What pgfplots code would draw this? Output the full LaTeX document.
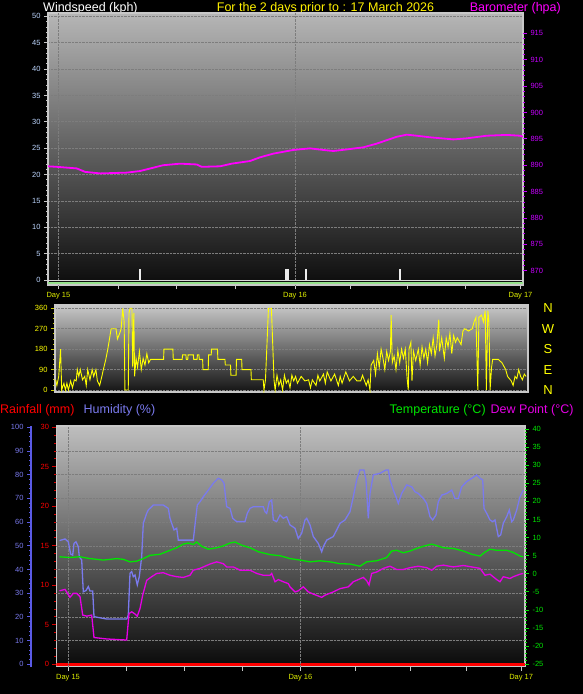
\documentclass[border=0pt]{standalone}
\usepackage{pgfplots}
\pgfplotsset{compat=1.18}
\usepackage{fontspec}
\setmainfont{Liberation Sans}
\definecolor{dayyel}{RGB}{225,240,0}
\definecolor{windlab}{RGB}{190,215,255}
\definecolor{baro}{RGB}{255,0,255}
\definecolor{barolab}{RGB}{200,0,255}
\definecolor{hum}{RGB}{122,122,238}
\definecolor{humax}{RGB}{90,90,230}
\definecolor{temp}{RGB}{0,230,0}
\definecolor{dew}{RGB}{230,0,230}
\definecolor{frame}{RGB}{200,200,200}
\definecolor{dirc}{RGB}{255,255,0}
\definecolor{windg}{RGB}{150,225,140}
\definecolor{gridc}{RGB}{125,125,125}
\pgfplotsset{
  base/.style={scale only axis, clip=true,
    tick label style={font=\fontsize{7.5}{8}\selectfont},
    /pgf/number format/assume math mode=true,
    tick align=outside, major tick length=4pt, minor tick length=2pt,
  },
}
\begin{document}
\begin{tikzpicture}
\fill[black] (0pt,0pt) rectangle (583pt,-694pt);
% titles
\node[anchor=base west, text=white, font=\fontsize{12.5}{14}\selectfont, inner sep=0] at (43pt,-11.5pt) {Windspeed (kph)};
\node[anchor=base, text=yellow, font=\fontsize{12.5}{14}\selectfont, inner sep=0] at (325.5pt,-11.5pt) {For the 2 days prior to : 17 March 2026};
\node[anchor=base east, text=baro, font=\fontsize{12.5}{14}\selectfont, inner sep=0] at (561pt,-11.5pt) {Barometer (hpa)};
\node[anchor=base west, text=red, font=\fontsize{12.5}{14}\selectfont, inner sep=0] at (0pt,-413.5pt) {Rainfall (mm)};
\node[anchor=base west, text=hum, font=\fontsize{12.5}{14}\selectfont, inner sep=0] at (83.5pt,-413.5pt) {Humidity (\%)};
\node[anchor=base west, text=temp, font=\fontsize{12.5}{14}\selectfont, inner sep=0] at (389.5pt,-413.5pt) {Temperature (°C)};
\node[anchor=base west, text=dew, font=\fontsize{12.5}{14}\selectfont, inner sep=0] at (490.5pt,-413.5pt) {Dew Point (°C)};

% ===== top panel: wind speed
\begin{axis}[base, at={(48pt,-285pt)}, anchor=south west, width=475pt, height=272pt,
  xmin=48, xmax=523, ymin=-0.95, ymax=50.63,
  axis background/.style={top color={rgb,255:red,182;green,182;blue,182}, bottom color={rgb,255:red,12;green,12;blue,12}},
  axis line style={frame, line width=1.2pt}, tick pos=left,
  tick style={frame, line width=0.7pt},
  ytick={0,5,...,50}, minor y tick num=4,
  yticklabel style={text=windlab},
  xtick={58.4,118,176.6,235.7,295,350.6,407.8,465.8,520.5},
  xticklabels={Day 15,,,,Day 16,,,,Day 17},
  xticklabel style={text=dayyel},
  ymajorgrids, y grid style={densely dotted, gridc, line width=0.6pt},
  extra x ticks={58.4,295}, extra x tick labels={},
  extra x tick style={grid=major, major tick length=0pt, x grid style={densely dotted, gridc, line width=0.8pt}},
]
\addplot[windg, line width=2.5pt] coordinates {(48,-0.57) (523,-0.57)};
\addplot[gray!30!white, line width=0.8pt] coordinates {(48,0) (523,0)};
\addplot[ycomb, white!85!gray, line width=1.3pt] coordinates {(140,2) (286,2.1) (288,2.1) (306,2) (400,2)};
\end{axis}
% barometer
\begin{axis}[base, at={(48pt,-285pt)}, anchor=south west, width=475pt, height=272pt,
  xmin=48, xmax=523, ymin=867.29, ymax=918.87,
  axis y line*=right, axis x line=none,
  axis line style={draw=none},
  tick style={barolab, line width=0.9pt},
  ytick={870,875,...,915}, minor y tick num=4,
  yticklabel style={text=barolab},
]
\addplot[baro, line width=1.8pt] coordinates {
(48,889.8) (56.7,889.7) (76.7,889.4) (85,888.75) (100,888.45) (126.7,888.6) (140,888.9)
(163,890.0) (180,890.3) (196.7,890.15) (201.7,889.7) (220,889.8) (231.7,890.3) (250,890.8)
(260,891.5) (273.3,892.2) (293.3,892.9) (310,893.2) (323.3,892.9) (333.3,892.7) (346.7,893.0)
(363.3,893.4) (376.7,894.1) (386.7,894.75) (396.7,895.4) (406.7,895.8) (416.7,895.6) (430,895.3)
(453.3,894.9) (466.7,895.1) (486.7,895.6) (506.7,895.75) (520,895.6) (523,895.4)};
\end{axis}

% ===== middle panel: wind direction
\begin{axis}[base, at={(55pt,-392pt)}, anchor=south west, width=473pt, height=87pt,
  xmin=148, xmax=1420, ymin=-8.8, ymax=374.5,
  axis background/.style={top color={rgb,255:red,200;green,200;blue,200}, bottom color={rgb,255:red,20;green,20;blue,20}},
  axis line style={frame, line width=1.2pt}, tick pos=left,
  tick style={dirc!80!black, line width=0.7pt},
  ytick={0,90,...,360}, minor y tick num=3,
  yticklabel style={text=dirc},
  xtick=\empty,
  ymajorgrids, y grid style={densely dotted, gridc, line width=0.6pt},
]
\addplot[dirc, line width=0.9pt] coordinates {
(150,45) (153,20) (158,60) (163,180) (166,0) (172,30) (176,0) (180,30) (184,0) (190,40) (195,10)
(200,45) (205,40) (208,90) (212,60) (216,90) (222,45) (228,60) (232,20) (236,90) (242,45) (248,90)
(252,60) (258,90) (262,40) (268,20) (274,60) (278,90) (284,130) (290,180) (295,230) (299,270)
(312,270) (316,225) (322,250) (326,270) (330,360) (334,300) (336,0) (345,0) (347,340) (350,360)
(355,360) (357,100) (360,340) (362,60) (366,140) (370,100) (375,170) (380,90) (385,140) (390,110)
(395,160) (400,120) (405,135) (440,135) (441,180) (465,180) (466,135) (490,135) (491,155) (500,155)
(501,135) (505,135) (506,155) (520,155) (521,135) (530,135) (531,155) (535,155) (536,135) (545,135)
(546,90) (560,90) (561,155) (568,155) (569,180) (585,180) (586,135) (605,135) (606,110) (620,110)
(621,65) (635,65) (636,135) (650,135) (651,90) (675,90) (676,45) (708,45) (710,0) (714,45) (718,200)
(722,360) (730,360) (734,180) (737,45) (740,0) (745,65) (750,20) (755,45) (760,0) (765,65) (770,30)
(775,45) (780,10) (785,65) (790,40) (795,60) (800,30) (810,60) (820,40) (830,45) (835,10) (840,45)
(850,20) (855,65) (860,40) (870,70) (875,30) (880,80) (890,40) (900,70) (910,20) (915,60) (920,30)
(930,80) (940,40) (950,60) (960,40) (970,40) (975,65) (985,20) (990,45) (995,0) (998,110) (1005,130)
(1010,70) (1015,160) (1020,100) (1025,180) (1030,140) (1035,90) (1040,170) (1045,130) (1050,170)
(1052,330) (1055,120) (1060,150) (1065,90) (1070,175) (1075,120) (1080,180) (1085,140) (1090,180)
(1095,50) (1098,0) (1100,180) (1105,210) (1108,40) (1112,170) (1118,130) (1125,180) (1130,110)
(1135,190) (1140,140) (1145,180) (1150,120) (1155,200) (1160,160) (1165,230) (1170,150) (1175,200)
(1180,310) (1182,170) (1188,230) (1195,140) (1200,230) (1205,190) (1210,250) (1215,160) (1220,240)
(1225,210) (1230,230) (1240,200) (1245,260) (1250,270) (1260,260) (1270,270) (1275,300) (1280,320)
(1285,0) (1288,320) (1295,330) (1300,300) (1305,350) (1308,0) (1312,350) (1315,300) (1318,0)
(1322,100) (1325,135) (1340,135) (1350,120) (1360,90) (1365,60) (1375,40) (1380,20) (1385,60)
(1390,50) (1395,90) (1400,60) (1405,45) (1410,70) (1415,60)};
\end{axis}
% compass letters
\begin{axis}[base, at={(55pt,-392pt)}, anchor=south west, width=473pt, height=87pt,
  xmin=148, xmax=1420, ymin=-8.8, ymax=374.5,
  axis y line*=right, axis x line=none, axis line style={draw=none},
  major tick length=0pt,
  ytick={0,90,180,270,360}, yticklabels={N,E,S,W,N},
  yticklabel style={font=\fontsize{13}{13}\selectfont, text=dirc, anchor=center, xshift=20pt},
]
\end{axis}

% ===== bottom panel
\begin{axis}[base, at={(56.5pt,-666.5pt)}, anchor=south west, width=468.5pt, height=240.5pt,
  xmin=56.5, xmax=525, ymin=-0.28, ymax=30.16,
  axis background/.style={top color={rgb,255:red,190;green,190;blue,190}, bottom color={rgb,255:red,10;green,10;blue,10}},
  axis line style={frame, line width=1.2pt}, tick pos=left,
  ytick={0,5,...,30}, minor y tick num=4,
  y tick style={red!85!black, line width=0.8pt},
  x tick style={frame, line width=0.7pt},
  yticklabel style={text=red},
  xtick={68,126.4,184,242.4,300.4,355,410.8,466.5,521.2},
  xticklabels={Day 15,,,,Day 16,,,,Day 17},
  xticklabel style={text=dayyel},
]
\addplot[red, line width=2.5pt] coordinates {(56.5,0) (525,0)};
\end{axis}
% humidity data
\begin{axis}[base, at={(56.5pt,-666.5pt)}, anchor=south west, width=468.5pt, height=240.5pt,
  xmin=56.5, xmax=525, ymin=-0.93, ymax=100.55,
  axis line style={draw=none}, tick style={draw=none},
  ytick={10,20,...,90}, yticklabels={}, xtick={68,300.4}, xticklabels={},
  ymajorgrids, xmajorgrids,
  y grid style={densely dotted, gridc, line width=0.6pt}, x grid style={densely dotted, gridc, line width=0.8pt},
]
\addplot[hum, line width=1.3pt] coordinates {
(59.5,52.2) (65,52.9) (68.3,51.7) (70.7,46.5) (72.7,46.1) (74,51.0) (76,51.7) (78.3,49.6) (79.3,45.4)
(81.7,44.0) (83.3,30.6) (86,31.1) (88.3,32.8) (90,30.9) (92.7,30.9) (94,20.1) (106.7,19.1) (126.7,19.1)
(128.3,20.8) (130,38.4) (131.7,39.1) (133.3,37.0) (135,37.7) (137.3,33.5) (139.3,37.0) (141.7,45.4)
(143.3,59.5) (146.7,63.7) (148.3,65.1) (153.3,67.2) (163.3,67.2) (168.3,65.8) (170,61.6) (174,56.7)
(176.7,57.4) (178.3,52.4) (193.3,52.4) (195,58.8) (197.3,67.2) (200,68.6) (203.3,70.7) (208.3,73.5)
(213.3,76.4) (218.3,78.5) (221.7,77.8) (224,76.4) (226.7,66.5) (230,65.8) (232.7,61.6) (236.7,60.2)
(245,60.2) (247.3,63.7) (250,65.8) (253.3,66.5) (263.3,66.5) (265,64.4) (266.7,63.7) (269.3,68.6)
(271.7,69.3) (273.3,60.9) (276.7,60.2) (280,63.0) (283.3,61.6) (286.7,62.3)
(290,58.8) (295,57.4) (298.3,53.1) (301.7,55.3) (305,60.9) (306.7,61.6) (310,58.8) (313.3,53.9)
(318.3,51.0) (321.7,47.5) (323.3,49.6) (326.7,52.4) (333.3,53.9) (336.7,56.7) (340,59.5) (345,60.9)
(350,64.4) (353.3,70.7) (356.7,77.8) (360,82.0) (364,82.0) (366,77.8) (368.3,61.6) (370,72.1)
(373.3,79.9) (380,80.6) (386,82.0) (388.3,82.0) (390,77.8) (393.3,73.5) (396,70.7) (398.3,67.9)
(401.7,72.1) (406.7,75.7) (411.7,74.9) (415,72.8) (418.3,72.1) (423.3,70.0) (426.7,67.9) (430,62.3)
(432.7,60.9) (436,63.0) (438.3,68.6) (441.7,71.4) (446.7,72.1) (451.7,73.5) (455,70.0) (458.3,70.0)
(461.7,74.9) (466.7,77.1) (471.7,78.5) (476.7,79.9) (480,78.5) (482.7,77.8) (484,65.8) (486.7,63.7)
(490,60.9) (492.7,60.2) (495,60.9) (498.3,53.9) (500.7,54.6) (503.3,59.5) (506.7,62.3) (509.3,65.1)
(511.7,60.2) (513.3,60.9) (516.7,65.1) (520,70.7) (523.3,73.5)};
\end{axis}
% temperature / dew point
\begin{axis}[base, at={(56.5pt,-666.5pt)}, anchor=south west, width=468.5pt, height=240.5pt,
  xmin=56.5, xmax=525, ymin=-25.61, ymax=40.83,
  axis y line*=right, axis x line=none, axis line style={draw=none},
  tick style={temp, line width=0.9pt},
  ytick={-25,-20,...,40}, minor y tick num=4,
  yticklabel style={text=temp},
]
\addplot[temp, line width=1.3pt] coordinates {
(59.5,4.7) (70,4.5) (80,4.7) (90,4.2) (103.3,3.8) (116.7,4.2) (123.3,4.0) (130,3.3) (136.7,3.5)
(143.3,4.2) (150,5.1) (160,5.4) (170,6.5) (176.7,7.2) (183.3,8.2) (188.3,8.5) (193.3,8.1) (196.7,8.8)
(201.7,7.6) (208.3,6.8) (216.7,7.2) (223.3,7.7) (230,8.5) (235,8.8) (241.7,7.9) (250,7.2) (258.3,6.1)
(270,5.3) (280,5.0) (290,4.2) (300,3.8) (310,3.3) (320,3.6) (330,3.3) (340,2.8) (350,2.7) (360,2.1)
(366.7,3.3) (376.7,3.6) (386.7,4.5) (391.7,6.3) (396.7,6.5) (403.3,5.8) (410,6.3) (416.7,7.0)
(423.3,7.6) (431.7,8.2) (436.7,7.8) (443.3,7.2) (453.3,7.0) (463.3,6.3) (471.7,5.4) (480,4.9)
(485,6.0) (490,6.8) (496.7,6.5) (506.7,6.5) (513.3,5.9) (520,4.9) (523.3,4.7)};
\addplot[dew, line width=1.3pt] coordinates {
(59.5,-4.7) (65,-4.3) (70,-6.5) (73.3,-5.4) (76.7,-5.4) (80,-6.3) (82.7,-11.4) (86.7,-11.7) (91.7,-11.4)
(94,-17.6) (106.7,-18.0) (126.7,-18.3) (129,-11.0) (131.7,-10.5) (135,-11.1) (137.3,-11.7) (140,-9.6)
(142.7,-5.9) (146.7,-1.8) (151.7,-0.8) (156.7,0.1) (163.3,0.3) (170,-0.4) (176.7,-0.8) (183.3,-1.0)
(190,-0.4) (193.3,1.0) (200,1.5) (210,2.7) (216.7,3.3) (223.3,2.8) (226.7,1.9) (233.3,1.9) (240,1.0)
(250,1.0) (256.7,0.1) (263.3,-0.4) (270,-0.4) (271.7,0.1) (275,-2.2) (278.3,-1.6) (283.3,-2.2)
(288.3,-2.7) (290,-3.6) (295,-5.0) (298.3,-4.7) (303.3,-3.6) (308.3,-5.0) (313.3,-5.6) (321.7,-6.5)
(325,-5.9) (333.3,-5.0) (340,-4.1) (348.3,-3.6) (353.3,-2.2) (363.3,-1.0) (366.7,-1.9) (369,-3.1)
(371.7,0.1) (376.7,0.5) (383.3,1.5) (390,2.1) (396.7,1.2) (403.3,1.2) (410,1.7) (418.3,2.1) (426.7,1.7)
(431.7,1.0) (436.7,2.1) (443.3,2.4) (453.3,1.9) (463.3,2.3) (471.7,1.9) (480,1.5) (485,-0.4) (490,-0.1)
(496.7,-1.6) (500,-2.2) (503.3,-0.8) (510,-1.3) (513.3,-0.8) (520,-0.1) (523.3,0.1)};
\end{axis}
% humidity scale
\begin{axis}[base, at={(31pt,-666.5pt)}, anchor=south west, width=1pt, height=240.5pt,
  xmin=0, xmax=1, ymin=-0.93, ymax=100.55,
  axis y line*=left, axis x line=none,
  axis line style={humax, line width=1.6pt},
  tick style={humax, line width=0.9pt},
  ytick={0,10,...,100}, minor y tick num=4,
  yticklabel style={text=hum},
]
\end{axis}
\end{tikzpicture}
\end{document}
